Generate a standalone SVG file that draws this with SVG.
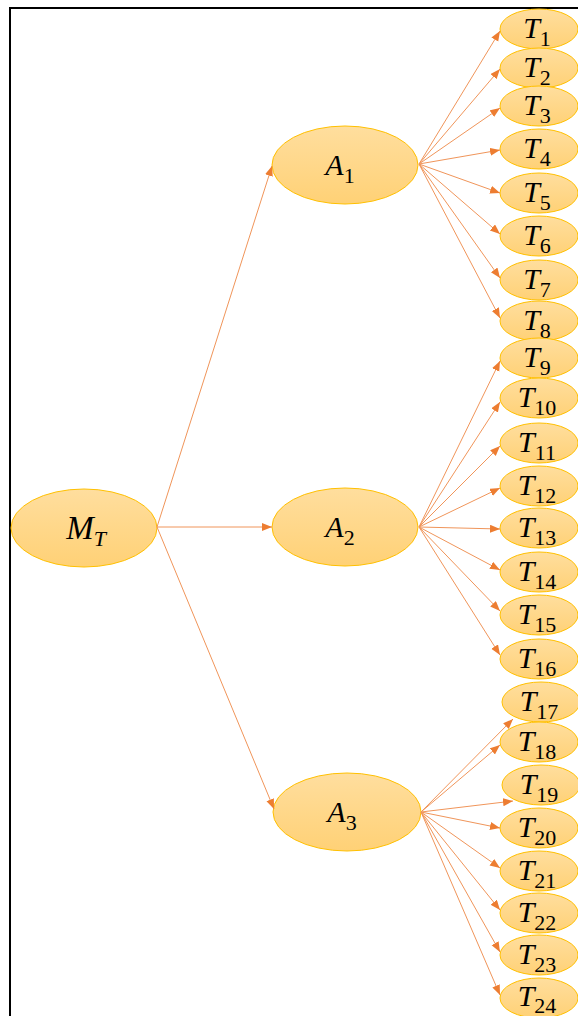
<svg xmlns="http://www.w3.org/2000/svg" width="578" height="1016" viewBox="0 0 578 1016">
<style>
.nd{fill:url(#g);stroke:#FFC000;stroke-width:1}
.lb{font-family:"Liberation Serif",serif;font-style:italic;font-size:30px;fill:#000;text-anchor:middle}
.sb{font-style:normal;font-size:22px}
.si{font-style:italic;font-size:22px}
.cn{stroke:#F0955A;stroke-width:1;fill:none;marker-end:url(#ah)}
</style>
<defs>
<linearGradient id="g" x1="0" y1="0" x2="0" y2="1">
<stop offset="0" stop-color="#FFDE9E"/>
<stop offset="1" stop-color="#FFD176"/>
</linearGradient>
<marker id="ah" markerUnits="userSpaceOnUse" markerWidth="11" markerHeight="9" refX="10" refY="4" orient="auto">
<path d="M0,0 L10,4 L0,8 z" fill="#ED7D31"/>
</marker>
</defs>
<rect x="0" y="0" width="578" height="1016" fill="#fff"/>
<rect x="10" y="8" width="620" height="1060" fill="none" stroke="#000" stroke-width="2"/>
<g id="MT"><ellipse class="nd" cx="84" cy="528" rx="73" ry="39"/><text class="lb" x="86" y="539" style="font-size:33px">M<tspan class="si" dy="7">T</tspan></text></g>
<g id="A1"><ellipse class="nd" cx="345" cy="165" rx="73" ry="39"/><text class="lb" x="340" y="175">A<tspan class="sb" dy="8">1</tspan></text></g>
<g id="A2"><ellipse class="nd" cx="345" cy="527" rx="73" ry="39"/><text class="lb" x="340" y="537">A<tspan class="sb" dy="8">2</tspan></text></g>
<g id="A3"><ellipse class="nd" cx="347" cy="812" rx="74" ry="39"/><text class="lb" x="342" y="822">A<tspan class="sb" dy="8">3</tspan></text></g>
<g id="T1"><ellipse class="nd" cx="539" cy="29" rx="39" ry="20"/><text class="lb" x="537" y="38">T<tspan class="sb" dy="8">1</tspan></text></g>
<g id="T2"><ellipse class="nd" cx="539" cy="68" rx="39" ry="20"/><text class="lb" x="537" y="77">T<tspan class="sb" dy="8">2</tspan></text></g>
<g id="T3"><ellipse class="nd" cx="539" cy="106" rx="39" ry="20"/><text class="lb" x="537" y="115">T<tspan class="sb" dy="8">3</tspan></text></g>
<g id="T4"><ellipse class="nd" cx="539" cy="149" rx="39" ry="20"/><text class="lb" x="537" y="158">T<tspan class="sb" dy="8">4</tspan></text></g>
<g id="T5"><ellipse class="nd" cx="539" cy="193" rx="39" ry="20"/><text class="lb" x="537" y="202">T<tspan class="sb" dy="8">5</tspan></text></g>
<g id="T6"><ellipse class="nd" cx="539" cy="236" rx="39" ry="20"/><text class="lb" x="537" y="245">T<tspan class="sb" dy="8">6</tspan></text></g>
<g id="T7"><ellipse class="nd" cx="539" cy="280" rx="39" ry="20"/><text class="lb" x="537" y="289">T<tspan class="sb" dy="8">7</tspan></text></g>
<g id="T8"><ellipse class="nd" cx="539" cy="321" rx="39" ry="20"/><text class="lb" x="537" y="330">T<tspan class="sb" dy="8">8</tspan></text></g>
<g id="T9"><ellipse class="nd" cx="539" cy="358" rx="39" ry="20"/><text class="lb" x="537" y="367">T<tspan class="sb" dy="8">9</tspan></text></g>
<g id="T10"><ellipse class="nd" cx="539" cy="398" rx="39" ry="20"/><text class="lb" x="537" y="407">T<tspan class="sb" dy="8">10</tspan></text></g>
<g id="T11"><ellipse class="nd" cx="539" cy="443" rx="39" ry="20"/><text class="lb" x="537" y="452">T<tspan class="sb" dy="8">11</tspan></text></g>
<g id="T12"><ellipse class="nd" cx="539" cy="486" rx="39" ry="20"/><text class="lb" x="537" y="495">T<tspan class="sb" dy="8">12</tspan></text></g>
<g id="T13"><ellipse class="nd" cx="539" cy="528" rx="39" ry="20"/><text class="lb" x="537" y="537">T<tspan class="sb" dy="8">13</tspan></text></g>
<g id="T14"><ellipse class="nd" cx="539" cy="572" rx="39" ry="20"/><text class="lb" x="537" y="581">T<tspan class="sb" dy="8">14</tspan></text></g>
<g id="T15"><ellipse class="nd" cx="539" cy="615" rx="39" ry="20"/><text class="lb" x="537" y="624">T<tspan class="sb" dy="8">15</tspan></text></g>
<g id="T16"><ellipse class="nd" cx="539" cy="659" rx="39" ry="20"/><text class="lb" x="537" y="668">T<tspan class="sb" dy="8">16</tspan></text></g>
<g id="T17"><ellipse class="nd" cx="541" cy="702" rx="39" ry="20"/><text class="lb" x="539" y="711">T<tspan class="sb" dy="8">17</tspan></text></g>
<g id="T18"><ellipse class="nd" cx="539" cy="742" rx="39" ry="20"/><text class="lb" x="537" y="751">T<tspan class="sb" dy="8">18</tspan></text></g>
<g id="T19"><ellipse class="nd" cx="541" cy="785" rx="39" ry="20"/><text class="lb" x="539" y="794">T<tspan class="sb" dy="8">19</tspan></text></g>
<g id="T20"><ellipse class="nd" cx="539" cy="828" rx="39" ry="20"/><text class="lb" x="537" y="837">T<tspan class="sb" dy="8">20</tspan></text></g>
<g id="T21"><ellipse class="nd" cx="539" cy="871" rx="39" ry="20"/><text class="lb" x="537" y="880">T<tspan class="sb" dy="8">21</tspan></text></g>
<g id="T22"><ellipse class="nd" cx="539" cy="913" rx="39" ry="20"/><text class="lb" x="537" y="922">T<tspan class="sb" dy="8">22</tspan></text></g>
<g id="T23"><ellipse class="nd" cx="539" cy="955" rx="39" ry="20"/><text class="lb" x="537" y="964">T<tspan class="sb" dy="8">23</tspan></text></g>
<g id="T24"><ellipse class="nd" cx="539" cy="998" rx="39" ry="20"/><text class="lb" x="537" y="1006">T<tspan class="sb" dy="7">24</tspan></text></g>
<g id="connectors">
<line class="cn" x1="157" y1="527" x2="272" y2="166"/>
<line class="cn" x1="157" y1="527" x2="272" y2="527"/>
<line class="cn" x1="157" y1="527" x2="274" y2="809"/>
<line class="cn" x1="419" y1="164" x2="500" y2="31"/>
<line class="cn" x1="419" y1="164" x2="500" y2="69"/>
<line class="cn" x1="419" y1="164" x2="500" y2="108"/>
<line class="cn" x1="419" y1="164" x2="500" y2="150"/>
<line class="cn" x1="419" y1="164" x2="500" y2="193"/>
<line class="cn" x1="419" y1="164" x2="500" y2="234"/>
<line class="cn" x1="419" y1="164" x2="500" y2="278"/>
<line class="cn" x1="419" y1="164" x2="500" y2="318"/>
<line class="cn" x1="419" y1="527" x2="500" y2="361"/>
<line class="cn" x1="419" y1="527" x2="500" y2="402"/>
<line class="cn" x1="419" y1="527" x2="500" y2="446"/>
<line class="cn" x1="419" y1="527" x2="500" y2="488"/>
<line class="cn" x1="419" y1="527" x2="500" y2="529"/>
<line class="cn" x1="419" y1="527" x2="500" y2="570"/>
<line class="cn" x1="419" y1="527" x2="500" y2="611"/>
<line class="cn" x1="419" y1="527" x2="500" y2="655"/>
<line class="cn" x1="421" y1="812" x2="513" y2="719"/>
<line class="cn" x1="421" y1="812" x2="500" y2="745"/>
<line class="cn" x1="421" y1="812" x2="513" y2="801"/>
<line class="cn" x1="421" y1="812" x2="500" y2="828"/>
<line class="cn" x1="421" y1="812" x2="500" y2="868"/>
<line class="cn" x1="421" y1="812" x2="500" y2="910"/>
<line class="cn" x1="421" y1="812" x2="500" y2="952"/>
<line class="cn" x1="421" y1="812" x2="500" y2="995"/>
</g>
</svg>
